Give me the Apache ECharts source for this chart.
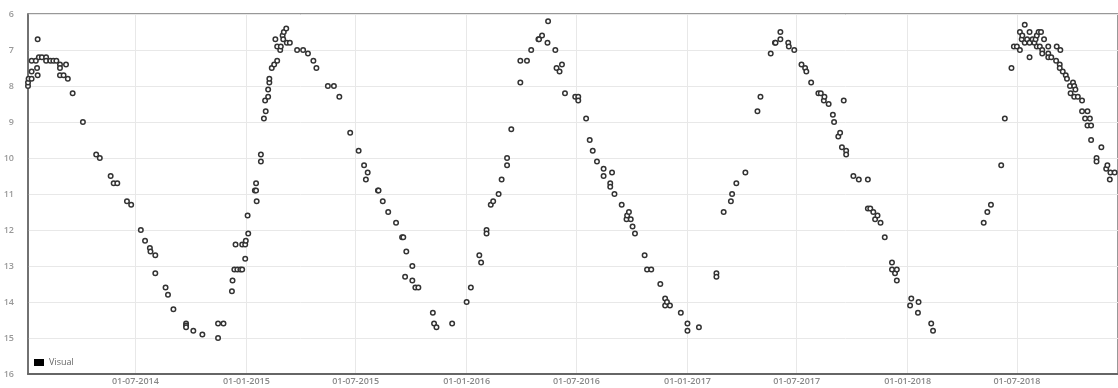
<!DOCTYPE html>
<html>
<head>
<meta charset="utf-8">
<script src="https://cdn.jsdelivr.net/npm/echarts@6/dist/echarts.min.js"></script>
<style>
html,body{margin:0;padding:0;background:#fff;}
#chart{width:1118px;height:388px;}
</style>
</head>
<body>
<div id="chart"></div>
<script>
const seriesName = 'Visual';
const tickLabels = ['01-07-2014','01-01-2015','01-07-2015','01-01-2016','01-07-2016','01-01-2017','01-07-2017','01-01-2018','01-07-2018'];
const yTicks = [6,7,8,9,10,11,12,13,14,15,16];
const xMin = '2014-01-04';
const xMax = '2018-12-15';

const dates = [
'2014-01-04','2014-01-04','2014-01-05','2014-01-10','2014-01-10','2014-01-10','2014-01-17','2014-01-19','2014-01-20','2014-01-20',
'2014-01-22','2014-01-27','2014-02-03','2014-02-03','2014-02-10','2014-02-15','2014-02-20','2014-02-26','2014-02-26','2014-02-26',
'2014-03-04','2014-03-08','2014-03-11','2014-03-19','2014-04-05','2014-04-27','2014-05-03','2014-05-21','2014-05-26','2014-06-01',
'2014-06-17','2014-06-24','2014-07-10','2014-07-17','2014-07-25','2014-07-26','2014-08-03','2014-08-03','2014-08-20','2014-08-24',
'2014-09-02','2014-09-23','2014-09-23','2014-09-23','2014-10-05','2014-10-20','2014-11-15','2014-11-15','2014-11-24','2014-12-08',
'2014-12-09','2014-12-12','2014-12-14','2014-12-17','2014-12-22','2014-12-25','2014-12-25','2014-12-30','2014-12-30','2014-12-31',
'2015-01-03','2015-01-04','2015-01-15','2015-01-17','2015-01-17','2015-01-18','2015-01-25','2015-01-25','2015-01-30','2015-02-01',
'2015-02-02','2015-02-06','2015-02-06','2015-02-08','2015-02-08','2015-02-12','2015-02-16','2015-02-18','2015-02-21','2015-02-21',
'2015-02-26','2015-02-27','2015-03-02','2015-03-03','2015-03-04','2015-03-08','2015-03-09','2015-03-14','2015-03-26','2015-04-05',
'2015-04-13','2015-04-22','2015-04-27','2015-05-16','2015-05-26','2015-06-04','2015-06-22','2015-07-06','2015-07-15','2015-07-18',
'2015-07-21','2015-08-07','2015-08-08','2015-08-15','2015-08-24','2015-09-06','2015-09-16','2015-09-18','2015-09-21','2015-09-23',
'2015-10-03','2015-10-03','2015-10-08','2015-10-13','2015-11-06','2015-11-08','2015-11-12','2015-12-08','2016-01-01','2016-01-08',
'2016-01-22','2016-01-25','2016-02-03','2016-02-03','2016-02-10','2016-02-14','2016-02-23','2016-02-28','2016-03-08','2016-03-08',
'2016-03-15','2016-03-30','2016-03-30','2016-04-10','2016-04-17','2016-04-29','2016-04-30','2016-05-05','2016-05-14','2016-05-15',
'2016-05-27','2016-05-29','2016-06-03','2016-06-07','2016-06-12','2016-06-29','2016-07-04','2016-07-04','2016-07-17','2016-07-23',
'2016-07-28','2016-08-04','2016-08-15','2016-08-15','2016-08-26','2016-08-26','2016-08-29','2016-09-02','2016-09-14','2016-09-22',
'2016-09-23','2016-09-26','2016-09-29','2016-10-02','2016-10-06','2016-10-22','2016-10-26','2016-11-02','2016-11-17','2016-11-25',
'2016-11-25','2016-11-28','2016-12-03','2016-12-21','2017-01-01','2017-01-01','2017-01-20','2017-02-18','2017-02-18','2017-03-02',
'2017-03-14','2017-03-16','2017-03-23','2017-04-07','2017-04-27','2017-05-02','2017-05-19','2017-05-26','2017-05-27','2017-06-04',
'2017-06-04','2017-06-17','2017-06-18','2017-06-27','2017-07-09','2017-07-15','2017-07-17','2017-07-25','2017-08-06','2017-08-10',
'2017-08-15','2017-08-16','2017-08-23','2017-08-30','2017-09-01','2017-09-08','2017-09-11','2017-09-14','2017-09-17','2017-09-21',
'2017-09-21','2017-10-03','2017-10-12','2017-10-27','2017-10-27','2017-10-31','2017-11-05','2017-11-08','2017-11-12','2017-11-17',
'2017-11-24','2017-12-06','2017-12-06','2017-12-11','2017-12-14','2017-12-14','2018-01-05','2018-01-07','2018-01-18','2018-01-19',
'2018-02-09','2018-02-12','2018-05-07','2018-05-13','2018-05-19','2018-06-05','2018-06-11','2018-06-22','2018-06-26','2018-07-01',
'2018-07-06','2018-07-06','2018-07-09','2018-07-10','2018-07-14','2018-07-14','2018-07-18','2018-07-22','2018-07-22','2018-07-22',
'2018-07-27','2018-07-30','2018-08-01','2018-08-03','2018-08-03','2018-08-06','2018-08-08','2018-08-10','2018-08-12','2018-08-12',
'2018-08-15','2018-08-22','2018-08-22','2018-08-22','2018-08-27','2018-09-04','2018-09-05','2018-09-10','2018-09-10','2018-09-11',
'2018-09-15','2018-09-20','2018-09-22','2018-09-27','2018-09-28','2018-10-02','2018-10-04','2018-10-04','2018-10-06','2018-10-10',
'2018-10-17','2018-10-17','2018-10-22','2018-10-26','2018-10-26','2018-10-30','2018-11-01','2018-11-01','2018-11-10','2018-11-10',
'2018-11-18','2018-11-26','2018-11-28','2018-12-02','2018-12-03','2018-12-10'
];

const values = [
8.0,7.9,7.8,7.8,7.6,7.3,7.3,7.5,7.7,6.7,
7.2,7.2,7.2,7.3,7.3,7.3,7.3,7.4,7.5,7.7,
7.7,7.4,7.8,8.2,9.0,9.9,10.0,10.5,10.7,10.7,
11.2,11.3,12.0,12.3,12.5,12.6,12.7,13.2,13.6,13.8,
14.2,14.6,14.65,14.7,14.8,14.9,14.6,15.0,14.6,13.7,
13.4,13.1,12.4,13.1,13.1,13.1,12.4,12.4,12.8,12.3,
11.6,12.1,10.9,10.9,10.7,11.2,10.1,9.9,8.9,8.4,
8.7,8.3,8.1,7.9,7.8,7.5,7.4,6.7,7.3,6.9,
7.0,6.9,6.6,6.7,6.5,6.4,6.8,6.8,7.0,7.0,
7.1,7.3,7.5,8.0,8.0,8.3,9.3,9.8,10.2,10.6,
10.4,10.9,10.9,11.2,11.5,11.8,12.2,12.2,13.3,12.6,
13.0,13.4,13.6,13.6,14.3,14.6,14.7,14.6,14.0,13.6,
12.7,12.9,12.0,12.1,11.3,11.2,11.0,10.6,10.0,10.2,
9.2,7.9,7.3,7.3,7.0,6.7,6.7,6.6,6.8,6.2,
7.0,7.5,7.6,7.4,8.2,8.3,8.3,8.4,8.9,9.5,
9.8,10.1,10.3,10.5,10.7,10.8,10.4,11.0,11.3,11.7,
11.6,11.5,11.7,11.9,12.1,12.7,13.1,13.1,13.5,13.9,
14.1,14.0,14.1,14.3,14.6,14.8,14.7,13.2,13.3,11.5,
11.2,11.0,10.7,10.4,8.7,8.3,7.1,6.8,6.8,6.5,
6.7,6.8,6.9,7.0,7.4,7.5,7.6,7.9,8.2,8.2,
8.4,8.3,8.5,8.8,9.0,9.4,9.3,9.7,8.4,9.8,
9.9,10.5,10.6,10.6,11.4,11.4,11.5,11.7,11.6,11.8,
12.2,12.9,13.1,13.2,13.1,13.4,14.1,13.9,14.3,14.0,
14.6,14.8,11.8,11.5,11.3,10.2,8.9,7.5,6.9,6.9,
7.0,6.5,6.7,6.6,6.3,6.8,6.7,6.5,6.8,7.2,
6.7,6.8,6.7,6.6,6.9,6.5,6.9,6.5,7.0,7.1,
6.7,6.9,7.1,7.2,7.2,7.3,6.9,7.4,7.5,7.0,
7.6,7.7,7.8,8.0,8.2,7.9,8.0,8.3,8.1,8.3,
8.4,8.7,8.9,8.7,9.1,8.9,9.1,9.5,10.0,10.1,
9.7,10.3,10.2,10.6,10.4,10.4
];

function parseDMY(s) {
  const p = s.split('-');
  return Date.UTC(+p[2], +p[1] - 1, +p[0]);
}
function parseYMD(s) {
  const p = s.split('-');
  return Date.UTC(+p[0], +p[1] - 1, +p[2]);
}
function pad(n) { return (n < 10 ? '0' : '') + n; }

const tickValues = tickLabels.map(parseDMY);
const points = dates.map((d, i) => [parseYMD(d), values[i]]);

const chart = echarts.init(document.getElementById('chart'), null, {renderer: 'canvas'});
chart.setOption({
  animation: false,
  backgroundColor: '#fff',
  grid: {
    left: 28, right: 0, top: 14, bottom: 14,
    containLabel: false,
    outerBoundsMode: 'none',
    show: true,
    borderColor: '#777',
    borderWidth: 1.5,
    backgroundColor: 'transparent'
  },
  legend: {
    data: [{name: seriesName, icon: 'rect', itemStyle: {color: '#000', borderWidth: 0}}],
    left: 34,
    top: 358,
    itemWidth: 10,
    itemHeight: 7,
    itemGap: 5,
    textStyle: {fontFamily: 'Open Sans', fontSize: 9, color: '#666'},
    padding: 0
  },
  xAxis: {
    type: 'value',
    min: parseYMD(xMin),
    max: parseYMD(xMax) + 14 * 3600 * 1000,
    axisLine: {show: true, onZero: false, lineStyle: {color: '#666', width: 2}},
    axisTick: {show: false, customValues: tickValues},
    axisLabel: {
      customValues: tickValues,
      margin: 3,
      fontFamily: 'Open Sans',
      fontSize: 9,
      color: '#888',
      fontWeight: 600,
      formatter: function (v) {
        const d = new Date(v);
        return pad(d.getUTCDate()) + '-' + pad(d.getUTCMonth() + 1) + '-' + d.getUTCFullYear();
      }
    },
    splitLine: {show: true, lineStyle: {color: '#e8e8e8', width: 1}}
  },
  yAxis: {
    type: 'value',
    inverse: true,
    min: yTicks[0],
    max: yTicks[yTicks.length - 1],
    interval: 1,
    axisLine: {show: true, onZero: false, lineStyle: {color: '#666', width: 1.5}},
    axisTick: {show: false},
    axisLabel: {margin: 14, fontFamily: 'Open Sans', fontSize: 9, color: '#999', fontWeight: 600},
    splitLine: {show: true, lineStyle: {color: '#e8e8e8', width: 1}}
  },
  series: [{
    name: seriesName,
    type: 'scatter',
    data: points,
    symbol: 'circle',
    symbolSize: 4.5,
    itemStyle: {color: '#fff', borderColor: '#333', borderWidth: 1.5, opacity: 1},
    clip: false
  }]
});
</script>
</body>
</html>
